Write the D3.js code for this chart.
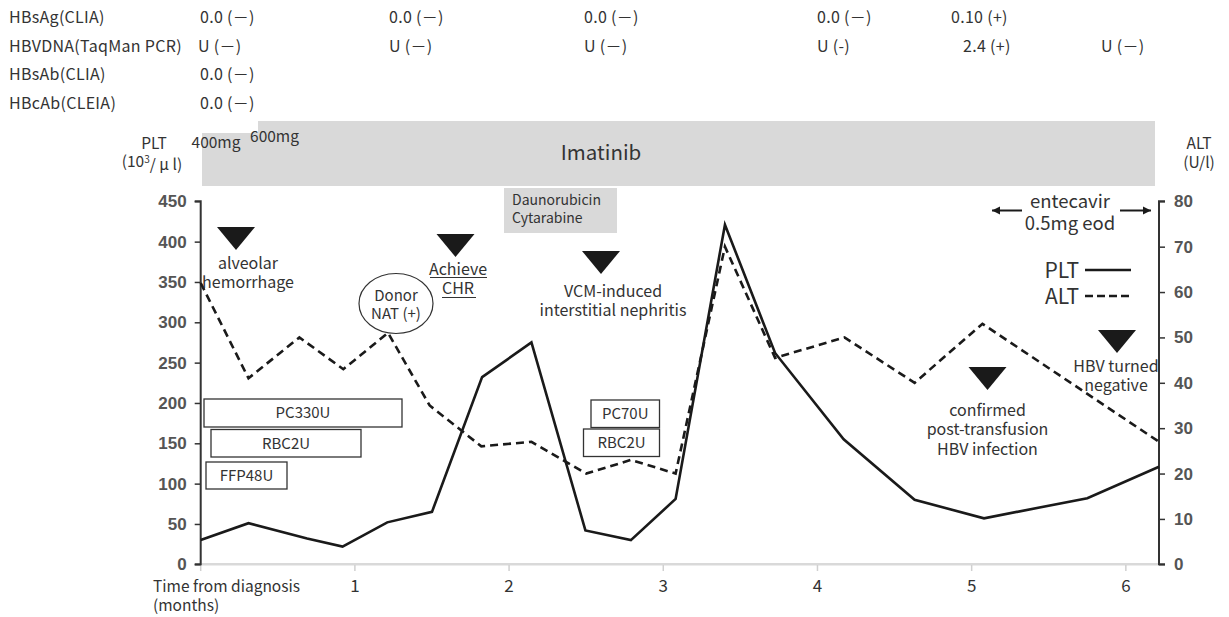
<!DOCTYPE html>
<html><head><meta charset="utf-8">
<script src="https://cdn.jsdelivr.net/npm/d3@7"></script>
<style>
body{margin:0;background:#fff;}
text{font-family:"Noto Sans CJK JP","Noto Sans",sans-serif;fill:#333;}
.num{font-family:"Liberation Sans Narrow","Liberation Sans",Arial,sans-serif;font-weight:bold;fill:#555;}
</style></head>
<body><svg id="c" width="1229" height="617"></svg>
<script>
// ---- data ----
const pltMonths = [0, 0.31, 0.69, 0.92, 1.21, 1.50, 1.825, 2.145, 2.495, 2.79, 3.08, 3.40, 3.725, 4.17, 4.63, 5.08, 5.75, 6.215];
const pltValues = [30, 51, 32, 22, 52, 65, 232, 275, 42, 30, 81, 421, 262, 155, 80, 57, 82, 121];
const altMonths = [0, 0.31, 0.64, 0.925, 1.215, 1.485, 1.82, 2.145, 2.50, 2.79, 3.08, 3.40, 3.725, 4.175, 4.63, 5.07, 6.215];
const altValues = [62, 41, 50, 43, 51, 35, 26, 27, 20, 23, 20, 70, 45.5, 50, 40, 53, 27];
const xTickValues = [0, 1, 2, 3, 4, 5, 6];
const leftTicks = [0, 50, 100, 150, 200, 250, 300, 350, 400, 450];
const rightTicks = [0, 10, 20, 30, 40, 50, 60, 70, 80];
const tableLabels = ["HBsAg(CLIA)", "HBVDNA(TaqMan PCR)", "HBsAb(CLIA)", "HBcAb(CLEIA)"];
const tableCells = [
  [[200,"0.0 (－)"],[389,"0.0 (－)"],[584,"0.0 (－)"],[817,"0.0 (－)"],[951,"0.10 (+)"]],
  [[198,"U (－)"],[389,"U (－)"],[584,"U (－)"],[817,"U (-)"],[963,"2.4 (+)"],[1101,"U (－)"]],
  [[200,"0.0 (－)"]],
  [[200,"0.0 (－)"]]
];

const svg = d3.select("#c");
const x = d3.scaleLinear().domain([0, 6.215]).range([200.7, 1159]);
const yL = d3.scaleLinear().domain([0, 450]).range([564.3, 201.3]);
const yR = d3.scaleLinear().domain([0, 80]).range([564.3, 201.3]);

// multi-line text helper: one <text> with tspans
function multi(cx, y0, step, arr, size, anchor) {
  const t = svg.append("text").attr("text-anchor", anchor || "middle").style("font-size", size + "px");
  arr.forEach((s, i) => t.append("tspan").attr("x", cx).attr("y", y0 + i * step).attr("dy", "0.35em").text(s));
  return t;
}

// ---- top table ----
const rowY = [17, 46, 74, 103];
tableLabels.forEach((l, i) => {
  svg.append("text").attr("x", 9).attr("y", rowY[i]).attr("dy", "0.35em")
    .style("font-size", "16px").style("letter-spacing", "0.3px").text(l);
  tableCells[i].forEach(c => {
    svg.append("text").attr("x", c[0]).attr("y", rowY[i]).attr("dy", "0.35em")
      .style("font-size", "16px").style("letter-spacing", "0.3px").text(c[1]);
  });
});

// ---- Imatinib band ----
svg.append("rect").attr("x", 202).attr("y", 133).attr("width", 56).attr("height", 53).attr("fill", "#d9d9d9");
svg.append("rect").attr("x", 258).attr("y", 121).attr("width", 897).attr("height", 65).attr("fill", "#d9d9d9");
svg.append("text").attr("x", 601).attr("y", 153).attr("dy", "0.35em").attr("text-anchor", "middle")
  .style("font-size", "20.5px").text("Imatinib");
svg.append("text").attr("x", 216).attr("y", 143).attr("dy", "0.35em").attr("text-anchor", "middle")
  .style("font-size", "15.5px").text("400mg");
svg.append("text").attr("x", 274.5).attr("y", 137).attr("dy", "0.35em").attr("text-anchor", "middle")
  .style("font-size", "15.5px").text("600mg");

// axis titles
const t2 = svg.append("text").attr("text-anchor", "middle").style("font-size", "15.5px");
t2.append("tspan").attr("x", 154).attr("y", 144).attr("dy", "0.35em").text("PLT");
t2.append("tspan").attr("x", 152).attr("y", 162).attr("dy", "0.35em").text("(10");
t2.append("tspan").attr("dy", "-0.4em").style("font-size", "10px").text("3");
t2.append("tspan").attr("dy", "0.4em").text("/ μ l)");
multi(1199, 144, 19, ["ALT", "(U/l)"], 15.5);

// Daunorubicin box
svg.append("rect").attr("x", 504).attr("y", 188).attr("width", 113).attr("height", 45).attr("fill", "#d9d9d9");
multi(512, 200, 18, ["Daunorubicin", "Cytarabine"], 14, "start");

// ---- axes ----
svg.append("line").attr("x1", x(0)).attr("x2", x(6.215)).attr("y1", 564.3).attr("y2", 564.3)
  .attr("stroke", "#d9d9d9").attr("stroke-width", 2.5);
svg.selectAll(".xt").data(xTickValues).enter().append("line")
  .attr("x1", d => x(d)).attr("x2", d => x(d)).attr("y1", 565).attr("y2", 571)
  .attr("stroke", "#d0d0d0").attr("stroke-width", 1.5);
svg.selectAll(".xl").data(xTickValues.filter(d => d > 0)).enter().append("text")
  .attr("x", d => x(d)).attr("y", 586).attr("dy", "0.35em").attr("text-anchor", "middle")
  .style("font-size", "17px").text(d => d);
multi(153, 587, 19, ["Time from diagnosis", "(months)"], 15.5, "start");

const gl = svg.append("g").attr("transform", "translate(200.7,0)")
  .call(d3.axisLeft(yL).tickValues(leftTicks).tickSize(6).tickPadding(8));
gl.select(".domain").attr("stroke", "#333").attr("stroke-width", 2).attr("d", `M-6,${yL(450)}H0V${yL(0)}H-6`);
gl.selectAll(".tick line").attr("stroke", "#333").attr("stroke-width", 1.5);
gl.selectAll(".tick text").attr("class", "num").style("font-size", "17px").attr("fill", "#555");

const gr = svg.append("g").attr("transform", "translate(1159,0)")
  .call(d3.axisRight(yR).tickValues(rightTicks).tickSize(6).tickPadding(9));
gr.select(".domain").attr("stroke", "#333").attr("stroke-width", 2).attr("d", `M6,${yR(80)}H0V${yR(0)}H6`);
gr.selectAll(".tick line").attr("stroke", "#333").attr("stroke-width", 1.5);
gr.selectAll(".tick text").attr("class", "num").style("font-size", "17px").attr("fill", "#555");

// ---- lines ----
const lineL = d3.line().x(d => x(d[0])).y(d => yL(d[1]));
const lineR = d3.line().x(d => x(d[0])).y(d => yR(d[1]));
svg.append("path").datum(altMonths.map((m, i) => [m, altValues[i]])).attr("d", lineR)
  .attr("fill", "none").attr("stroke", "#1a1a1a").attr("stroke-width", 2.6).attr("stroke-dasharray", "8,5");
svg.append("path").datum(pltMonths.map((m, i) => [m, pltValues[i]])).attr("d", lineL)
  .attr("fill", "none").attr("stroke", "#1a1a1a").attr("stroke-width", 2.6);

// ---- transfusion boxes ----
const boxes = [
  [204, 399, 198, 28, "PC330U"],
  [211, 429.5, 150, 27.5, "RBC2U"],
  [206, 462, 81, 27, "FFP48U"],
  [591, 400, 68.5, 27.5, "PC70U"],
  [583.5, 429, 76, 27.5, "RBC2U"]
];
boxes.forEach(b => {
  svg.append("rect").attr("x", b[0]).attr("y", b[1]).attr("width", b[2]).attr("height", b[3])
    .attr("fill", "#fff").attr("stroke", "#333").attr("stroke-width", 1.3);
  svg.append("text").attr("x", b[0] + b[2] / 2).attr("y", b[1] + b[3] / 2).attr("dy", "0.35em")
    .attr("text-anchor", "middle").style("font-size", "15px").text(b[4]);
});

// ---- event triangles ----
function tri(cx, top) {
  svg.append("path").attr("d", `M${cx - 19},${top}L${cx + 19},${top}L${cx},${top + 23}Z`).attr("fill", "#1a1a1a");
}
tri(236, 227);
multi(248, 263, 19, ["alveolar", "hemorrhage"], 16);
tri(455.5, 234);
multi(458, 269, 19.5, ["Achieve", "CHR"], 16);
svg.append("line").attr("x1", 430).attr("x2", 487).attr("y1", 277.5).attr("y2", 277.5).attr("stroke", "#333").attr("stroke-width", 1);
svg.append("line").attr("x1", 442).attr("x2", 476).attr("y1", 297.5).attr("y2", 297.5).attr("stroke", "#333").attr("stroke-width", 1);
tri(601, 251);
multi(613, 291, 19, ["VCM-induced", "interstitial nephritis"], 16);
tri(987.5, 367);
multi(987.5, 410, 19.5, ["confirmed", "post-transfusion", "HBV infection"], 16);
tri(1117, 330);
multi(1116, 366, 19, ["HBV turned", "negative"], 16);

// Donor ellipse
svg.append("ellipse").attr("cx", 396).attr("cy", 303.5).attr("rx", 37).attr("ry", 30)
  .attr("fill", "#fff").attr("stroke", "#333").attr("stroke-width", 1.2);
multi(396, 296, 18, ["Donor", "NAT (+)"], 15);

// entecavir
multi(1070, 202, 21.5, ["entecavir", "0.5mg eod"], 18.5);
function arrow(x1, x2, yy) {
  svg.append("line").attr("x1", x1).attr("x2", x2).attr("y1", yy).attr("y2", yy).attr("stroke", "#1a1a1a").attr("stroke-width", 2);
  const d = x2 > x1 ? 1 : -1;
  svg.append("path").attr("d", `M${x2},${yy}L${x2 - d * 8},${yy - 4}L${x2 - d * 8},${yy + 4}Z`).attr("fill", "#1a1a1a");
}
arrow(1022, 992, 210.5);
arrow(1120, 1151, 210.5);

// legend
svg.append("text").attr("x", 1079).attr("y", 270.5).attr("dy", "0.35em").attr("text-anchor", "end")
  .style("font-size", "21px").text("PLT");
svg.append("line").attr("x1", 1085).attr("x2", 1131).attr("y1", 270).attr("y2", 270).attr("stroke", "#1a1a1a").attr("stroke-width", 2.6);
svg.append("text").attr("x", 1079).attr("y", 296.5).attr("dy", "0.35em").attr("text-anchor", "end")
  .style("font-size", "21px").text("ALT");
svg.append("line").attr("x1", 1085).attr("x2", 1131).attr("y1", 296).attr("y2", 296).attr("stroke", "#1a1a1a").attr("stroke-width", 2.6).attr("stroke-dasharray", "8,4");
</script></body></html>
